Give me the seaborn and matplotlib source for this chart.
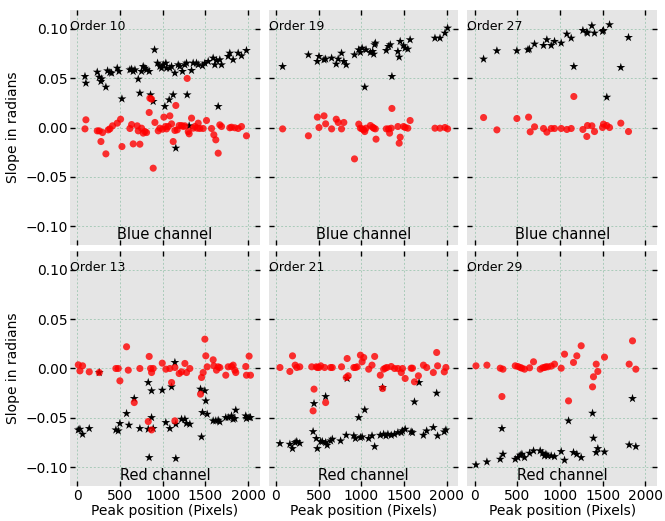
import matplotlib
matplotlib.use("Agg")
import matplotlib.pyplot as plt
import seaborn as sns
import pandas as pd

# ---------------- data ----------------
order_titles = ["Order 10", "Order 19", "Order 27", "Order 13", "Order 21", "Order 29"]
channel_titles = ["Blue channel", "Blue channel", "Blue channel",
                  "Red channel", "Red channel", "Red channel"]
x_ticks = [0, 500, 1000, 1500, 2000]
y_ticks = [-0.10, -0.05, 0.00, 0.05, 0.10]

# Order 10
o10_star_x = [90, 101, 234, 257, 277, 285, 335, 355, 382, 402, 468, 488, 523, 616, 636, 655, 675, 714, 733,
              753, 772, 792, 811, 842, 858, 889, 905, 940, 967, 987, 1006, 1026, 1037, 1045, 1076, 1084, 1104,
              1123, 1143, 1154, 1182, 1201, 1232, 1260, 1279, 1287, 1310, 1338, 1357, 1396, 1416, 1466, 1494,
              1533, 1591, 1611, 1630, 1650, 1669, 1689, 1767, 1786, 1825, 1884, 1923, 1981]
o10_star_y = [0.0517, 0.0449, 0.0561, 0.051, 0.0466, 0.0493, 0.0409, 0.0574, 0.0557, 0.0551, 0.0601, 0.0568,
              0.029, 0.0584, 0.0591, 0.0568, 0.0584, 0.049, 0.0348, 0.0568, 0.0618, 0.0601, 0.0584, 0.0568,
              0.0331, 0.0264, 0.0787, 0.0652, 0.0618, 0.0601, 0.0635, 0.0213, 0.0652, 0.0601, 0.028, 0.0601,
              0.0618, 0.0331, 0.0551, -0.0209, 0.0635, 0.0618, 0.0568, 0.0635, 0.0652, 0.0331, 0.0017, 0.0578,
              0.0652, 0.0652, 0.0635, 0.0625, 0.0652, 0.0669, 0.0703, 0.0635, 0.0679, 0.0213, 0.0686, 0.0635,
              0.072, 0.0753, 0.0686, 0.0753, 0.0726, 0.078]
o10_red_x = [90, 101, 234, 257, 277, 296, 335, 363, 382, 413, 468, 507, 523, 616, 636, 655, 702, 714, 733,
             753, 772, 792, 811, 842, 850, 870, 889, 909, 948, 967, 998, 1014, 1034, 1045, 1065, 1084, 1104,
             1123, 1143, 1154, 1170, 1193, 1221, 1240, 1260, 1287, 1299, 1310, 1338, 1357, 1377, 1404, 1416,
             1435, 1474, 1513, 1572, 1599, 1622, 1650, 1669, 1689, 1786, 1806, 1845, 1884, 1923, 1981]
o10_red_y = [-0.0014, 0.0078, -0.0034, -0.0034, -0.0142, -0.0051, -0.0267, -0.0024, -0.0014, 0.0017, 0.0044,
             0.0084, -0.0193, -0.001, 0.003, -0.0166, 0.0017, -0.0034, -0.0169, -0.0007, -0.0057, -0.0041,
             -0.0051, 0.0152, 0.0297, 0.0287, -0.0412, 0.0051, -0.0034, -0.0007, -0.0017, 0.0105, 0.001,
             -0.0014, 0.001, 0.0118, 0.0037, -0.0142, -0.003, 0.0223, -0.0024, 0.002, 0.002, 0.001, 0.0017,
             0.0497, -0.0041, -0.0064, 0.0095, -0.0007, 0.001, -0.0007, 0.0044, -0.001, -0.001, 0.0071,
             -0.001, -0.0074, -0.0125, -0.026, 0.0027, 0.001, -0.0003, 0.0003, -0.0003, -0.001, 0.001, -0.0084]

# Order 19
o19_star_x = [78, 380, 485, 504, 563, 582, 652, 706, 729, 768, 795, 823, 920, 970, 989, 1009, 1040, 1055,
              1106, 1133, 1145, 1156, 1164, 1292, 1319, 1339, 1358, 1428, 1443, 1455, 1494, 1513, 1544, 1571,
              1862, 1921, 1979, 2010]
o19_star_y = [0.0618, 0.0736, 0.0669, 0.072, 0.0686, 0.0693, 0.0703, 0.0642, 0.0693, 0.0753, 0.0669, 0.0635,
              0.0736, 0.0787, 0.076, 0.0804, 0.0409, 0.0787, 0.076, 0.077, 0.0743, 0.0838, 0.0855, 0.078,
              0.0821, 0.0838, 0.0517, 0.077, 0.0713, 0.0872, 0.0828, 0.0804, 0.0794, 0.0889, 0.0905, 0.0905,
              0.0956, 0.1007]
o19_red_x = [78, 380, 485, 504, 563, 582, 652, 706, 729, 768, 795, 920, 970, 989, 1009, 1028, 1040, 1055,
             1106, 1133, 1145, 1164, 1172, 1292, 1319, 1331, 1350, 1358, 1428, 1443, 1455, 1494, 1513, 1544,
             1571, 1862, 1921, 1979, 2010]
o19_red_y = [-0.0014, -0.0084, 0.0105, 0.0, 0.0118, 0.0037, -0.0014, 0.0084, 0.0051, -0.0014, 0.0051, -0.0318,
             0.0034, -0.0007, -0.0014, -0.0024, -0.0041, -0.0007, 0.002, 0.0003, -0.0007, -0.0014, -0.0118,
             -0.0014, -0.0014, -0.0057, -0.0007, 0.0193, 0.001, -0.0159, -0.0098, 0.001, 0.0, -0.0007, 0.0071,
             -0.0007, -0.0007, 0.0, -0.0014]

# Order 27
o27_star_x = [105, 261, 495, 624, 640, 702, 807, 846, 897, 936, 1014, 1080, 1131, 1162, 1268, 1314, 1322,
              1373, 1404, 1498, 1509, 1548, 1580, 1712, 1802]
o27_star_y = [0.0693, 0.0777, 0.0777, 0.0787, 0.0794, 0.0845, 0.0831, 0.0889, 0.0831, 0.0872, 0.0855, 0.0946,
              0.0905, 0.0618, 0.0983, 0.0966, 0.0956, 0.103, 0.0956, 0.0973, 0.0983, 0.0307, 0.1041, 0.0608,
              0.0912]
o27_red_x = [105, 261, 495, 632, 651, 702, 807, 846, 897, 936, 1014, 1080, 1131, 1162, 1268, 1314, 1322,
             1373, 1404, 1498, 1509, 1548, 1580, 1712, 1802]
o27_red_y = [0.0101, -0.0024, 0.0091, 0.0105, -0.0044, 0.0007, -0.001, -0.0047, -0.001, -0.001, -0.001, -0.002,
             -0.001, 0.0314, -0.002, -0.0091, 0.002, 0.0017, -0.0041, 0.0, 0.0034, 0.002, 0.0, 0.0044, -0.0041]

# Order 13
o13_star_x = [12, 31, 62, 140, 257, 452, 480, 499, 577, 605, 667, 733, 831, 831, 842, 870, 870, 889, 995,
              1037, 1084, 1104, 1143, 1154, 1154, 1221, 1260, 1279, 1318, 1443, 1455, 1466, 1494, 1505, 1521,
              1591, 1622, 1650, 1669, 1739, 1767, 1806, 1825, 1845, 1856, 1973, 1981, 2012, 2028]
o13_star_y = [-0.0622, -0.0615, -0.0666, -0.0608, -0.0041, -0.0622, -0.0632, -0.0557, -0.0456, -0.0574,
              -0.0304, -0.0608, -0.0142, -0.0615, -0.0902, -0.0497, -0.0226, -0.0608, -0.022, -0.0547, -0.0608,
              -0.0186, 0.0061, -0.0564, -0.0912, -0.0514, -0.0514, -0.0557, -0.0564, -0.0209, -0.0693, -0.0446,
              -0.0226, -0.0328, -0.0463, -0.053, -0.053, -0.0524, -0.0541, -0.0497, -0.0497, -0.048, -0.0514,
              -0.0507, -0.0422, -0.048, -0.0507, -0.0497, -0.0497]
o13_red_x = [12, 31, 62, 140, 257, 452, 480, 499, 577, 597, 667, 733, 831, 842, 858, 870, 870, 889, 995,
             1037, 1084, 1104, 1143, 1143, 1193, 1221, 1260, 1279, 1318, 1443, 1455, 1474, 1494, 1505, 1521,
             1591, 1599, 1630, 1650, 1669, 1739, 1767, 1806, 1825, 1845, 1856, 1973, 1981, 2012, 2028]
o13_red_y = [0.0037, -0.0024, 0.0027, -0.0034, -0.0041, 0.0, 0.0, -0.0125, 0.022, -0.0017, -0.0345, 0.0,
             -0.0537, 0.0122, 0.0, -0.0041, -0.0622, 0.0, 0.0054, -0.0007, 0.0, -0.0142, 0.001, -0.053, -0.0051,
             -0.0034, 0.0051, -0.0041, 0.0, -0.026, -0.0091, -0.0041, 0.0297, 0.0128, 0.0017, 0.0088, 0.0027,
             -0.0017, 0.0017, 0.001, -0.0068, 0.0017, 0.002, 0.0034, -0.0017, -0.0041, 0.002, -0.0068, 0.0125,
             -0.0068]

# Order 21
o21_star_x = [47, 163, 194, 225, 244, 279, 435, 446, 473, 485, 524, 543, 582, 582, 601, 640, 660, 757, 823,
              834, 912, 931, 970, 989, 1009, 1040, 1086, 1125, 1156, 1222, 1249, 1261, 1288, 1311, 1350, 1389,
              1428, 1467, 1482, 1513, 1583, 1599, 1622, 1676, 1727, 1765, 1843, 1882, 1893, 1971, 1990]
o21_star_y = [-0.076, -0.0767, -0.0811, -0.075, -0.074, -0.0757, -0.0639, -0.0355, -0.0709, -0.0811, -0.074,
              -0.074, -0.0284, -0.075, -0.0777, -0.0733, -0.0716, -0.0733, -0.0676, -0.0101, -0.0682, -0.0709,
              -0.0497, -0.0699, -0.0693, -0.0419, -0.0709, -0.0682, -0.0791, -0.0676, -0.0193, -0.0666, -0.0682,
              -0.0666, -0.0676, -0.0666, -0.0649, -0.0649, -0.0632, -0.0615, -0.0642, -0.0649, -0.0338, -0.0142,
              -0.0676, -0.0632, -0.0598, -0.025, -0.0682, -0.0642, -0.0622]
o21_red_x = [47, 163, 194, 225, 244, 279, 419, 473, 485, 504, 524, 570, 640, 660, 768, 823, 834, 846, 912,
             931, 951, 989, 1009, 1028, 1086, 1125, 1156, 1222, 1249, 1261, 1280, 1300, 1350, 1389, 1428, 1467,
             1482, 1513, 1583, 1599, 1622, 1668, 1727, 1765, 1843, 1882, 1893, 1971, 1990, 446, 435, 582]
o21_red_y = [0.001, -0.003, 0.0128, 0.0034, 0.001, 0.0017, 0.0017, 0.0017, 0.001, 0.001, 0.0027, 0.001, 0.001,
             0.001, 0.0017, -0.0091, 0.0101, -0.0074, 0.001, 0.001, 0.0017, 0.0135, 0.0068, 0.0111, -0.0007,
             0.0034, 0.0122, -0.0068, -0.0203, -0.0007, 0.0003, 0.001, 0.002, 0.0, 0.0, -0.0041, 0.0, -0.0101,
             0.0003, 0.0003, -0.0135, -0.0074, 0.0034, 0.001, -0.0041, 0.0162, 0.0027, -0.0034, 0.001, -0.0209,
             -0.0429, -0.0345]

# Order 29
o29_star_x = [16, 144, 300, 320, 332, 476, 507, 534, 554, 585, 644, 690, 768, 796, 819, 835, 858, 897, 936,
              1014, 1053, 1100, 1158, 1197, 1248, 1381, 1392, 1424, 1443, 1521, 1810, 1849, 1888]
o29_star_y = [-0.0976, -0.0946, -0.0919, -0.0608, -0.0868, -0.0919, -0.0902, -0.0878, -0.0868, -0.0902,
              -0.0858, -0.0834, -0.0834, -0.0858, -0.0885, -0.0868, -0.0885, -0.0885, -0.0892, -0.0841, -0.0929,
              -0.053, -0.0851, -0.0868, -0.0902, -0.0453, -0.0706, -0.0851, -0.0811, -0.0845, -0.0774, -0.0304,
              -0.0791]
o29_red_x = [16, 144, 300, 320, 332, 476, 507, 534, 554, 585, 644, 690, 768, 796, 819, 835, 858, 897, 936,
             1014, 1053, 1100, 1158, 1197, 1248, 1381, 1392, 1424, 1443, 1521, 1810, 1849, 1888]
o29_red_y = [0.0027, 0.0034, 0.0003, -0.0284, -0.0007, 0.0027, 0.002, 0.001, 0.0003, -0.0007, 0.0007, 0.0068,
             -0.0007, 0.0007, 0.001, 0.0017, 0.0017, 0.0024, 0.0044, 0.0003, 0.0145, -0.0328, 0.0061, 0.0128,
             0.023, -0.0186, -0.0084, 0.0044, -0.003, 0.0115, 0.0044, 0.028, -0.0007]

star_sets = [(o10_star_x, o10_star_y), (o19_star_x, o19_star_y), (o27_star_x, o27_star_y),
             (o13_star_x, o13_star_y), (o21_star_x, o21_star_y), (o29_star_x, o29_star_y)]
red_sets = [(o10_red_x, o10_red_y), (o19_red_x, o19_red_y), (o27_red_x, o27_red_y),
            (o13_red_x, o13_red_y), (o21_red_x, o21_red_y), (o29_red_x, o29_red_y)]

# ---------------- plot ----------------
sns.set_theme(style="darkgrid")
plt.rcParams["font.family"] = ["DejaVu Sans"]
plt.rcParams["axes.facecolor"] = "#e5e5e5"
plt.rcParams["xtick.labelsize"] = 10
plt.rcParams["ytick.labelsize"] = 10
plt.rcParams["text.color"] = "black"
plt.rcParams["axes.labelcolor"] = "black"
plt.rcParams["xtick.color"] = "black"
plt.rcParams["ytick.color"] = "black"

fig, axes = plt.subplots(2, 3, figsize=(6.65, 5.21), dpi=100, sharex=True, sharey=True)
fig.subplots_adjust(left=0.1053, right=0.9880, top=0.9808, bottom=0.0672, wspace=0.0474, hspace=0.0255)

for i, ax in enumerate(axes.flat):
    sx, sy = star_sets[i]
    rx, ry = red_sets[i]
    df_s = pd.DataFrame({"x": sx, "y": sy})
    df_r = pd.DataFrame({"x": rx, "y": ry})
    sns.scatterplot(data=df_s, x="x", y="y", ax=ax, marker="*", s=45, color="black",
                    edgecolor="none", linewidth=0, zorder=3)
    sns.scatterplot(data=df_r, x="x", y="y", ax=ax, marker="o", s=26, color="red", alpha=0.8,
                    edgecolor="none", linewidth=0, zorder=4)
    ax.set_facecolor("#e5e5e5")
    for sp in ax.spines.values():
        sp.set_visible(False)
    ax.grid(True, color="#a9cbb9", linestyle=(0, (2, 2)), linewidth=0.7)
    ax.set_axisbelow(True)
    ax.set_xlim(-85, 2136)
    ax.set_ylim(-0.119, 0.119)
    ax.set_xticks(x_ticks)
    ax.set_yticks(y_ticks)
    ax.tick_params(direction="in", length=3.5, width=1, color="black", labelcolor="black",
                   top=True, right=True, bottom=True, left=True, labelsize=10)
    ax.tick_params(axis="x", pad=2)
    ax.tick_params(axis="y", pad=1.5)
    ax.text(0.0, 0.93, order_titles[i], transform=ax.transAxes, ha="left", va="center",
            fontsize=9, color="black")
    ax.text(0.5, 0.045, channel_titles[i], transform=ax.transAxes, ha="center", va="center",
            fontsize=10.5, color="black")
    ax.set_xlabel("Peak position (Pixels)" if i >= 3 else "", fontsize=10, labelpad=1, color="black")
    ax.set_ylabel("Slope in radians" if i % 3 == 0 else "", fontsize=10, labelpad=4, color="black")

fig.savefig("out.png", dpi=100)
